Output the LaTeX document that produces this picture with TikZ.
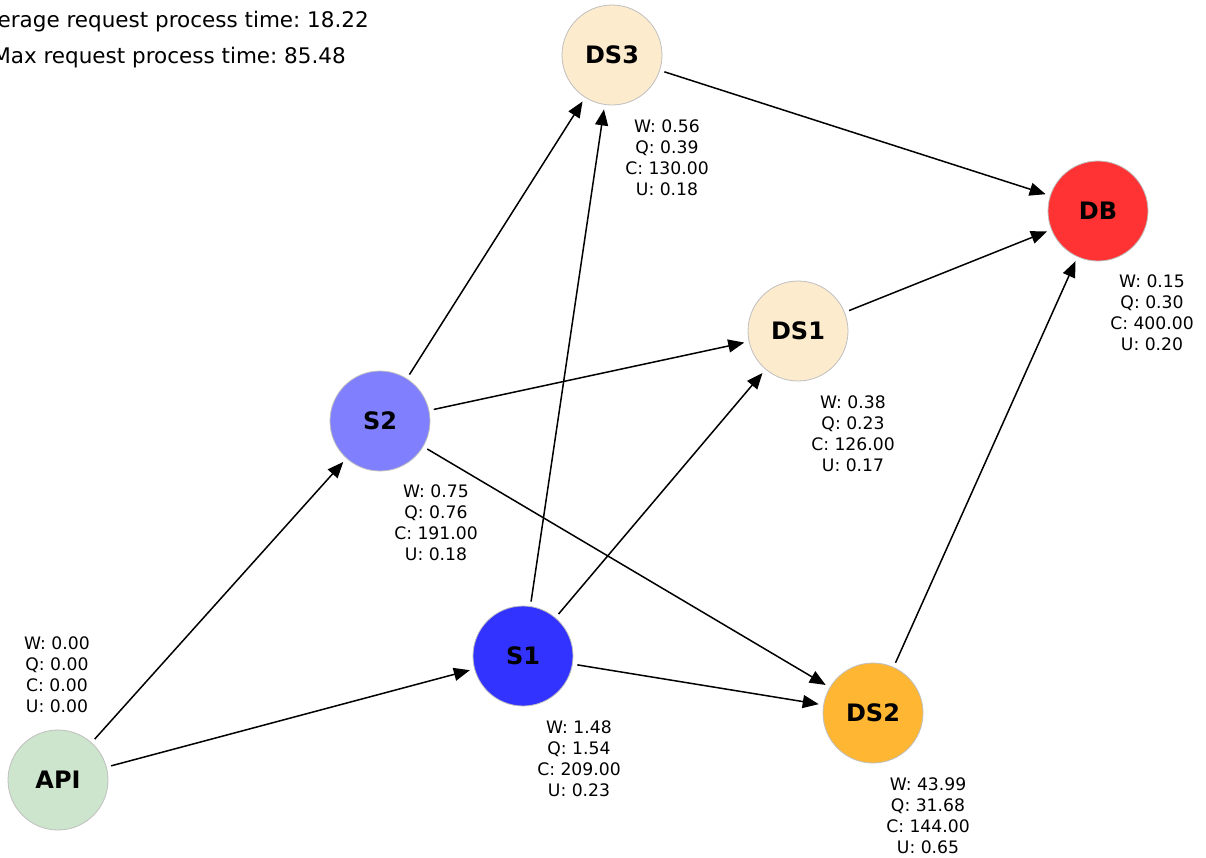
\documentclass[tikz,border=0pt]{standalone}
\usepackage{fontspec}
\setmainfont{DejaVu Sans}
\usetikzlibrary{arrows.meta}
\definecolor{cApi}{HTML}{CCE5CC}
\definecolor{cSone}{HTML}{3333FF}
\definecolor{cStwo}{HTML}{8080FF}
\definecolor{cDS}{HTML}{FDEBCD}
\definecolor{cDB}{HTML}{FF3333}
\definecolor{cDStwo}{HTML}{FFB733}
\frenchspacing
\tikzset{
  srv/.style={circle, draw=black!25, line width=0.8pt, minimum size=100pt, inner sep=0pt, outer sep=5pt,
    font=\fontsize{24}{28}\selectfont\bfseries},
  info/.style={align=center, font=\fontsize{17.2}{21}\selectfont, inner sep=0pt},
  edge/.style={-{Triangle[length=16pt,width=13pt]}, line width=1.5pt, black},
  hdr/.style={anchor=base east, inner sep=0pt, font=\fontsize{21.5}{25}\selectfont}
}
\begin{document}
\begin{tikzpicture}[x=1pt,y=-1pt]
\useasboundingbox (0,0) rectangle (1206,857);
\node[hdr] (avg) at (369,27) {Average request process time: 18.22};
\node[hdr] (max) at (346,63) {Max request process time: 85.48};

\node[srv, fill=cApi] (API) at (58,780) {API};
\node[srv, fill=cSone] (S1) at (523,656) {S1};
\node[srv, fill=cStwo] (S2) at (380,421) {S2};
\node[srv, fill=cDS] (DS3) at (612,55) {DS3};
\node[srv, fill=cDS] (DS1) at (798,331) {DS1};
\node[srv, fill=cDB] (DB) at (1098,211) {DB};
\node[srv, fill=cDStwo] (DS2) at (873,713) {DS2};

\node[info] (iAPI) at (57,675) {W: 0.00\\Q: 0.00\\C: 0.00\\U: 0.00};
\node[info] (iS1) at (579,759) {W: 1.48\\Q: 1.54\\C: 209.00\\U: 0.23};
\node[info] (iS2) at (436,523) {W: 0.75\\Q: 0.76\\C: 191.00\\U: 0.18};
\node[info] (iDS3) at (667,158) {W: 0.56\\Q: 0.39\\C: 130.00\\U: 0.18};
\node[info] (iDS1) at (853,434) {W: 0.38\\Q: 0.23\\C: 126.00\\U: 0.17};
\node[info] (iDB) at (1152,313) {W: 0.15\\Q: 0.30\\C: 400.00\\U: 0.20};
\node[info] (iDS2) at (928,816) {W: 43.99\\Q: 31.68\\C: 144.00\\U: 0.65};

\draw[edge] (API) -- (S2);
\draw[edge] (API) -- (S1);
\draw[edge] (S2) -- (DS3);
\draw[edge] (S2) -- (DS1);
\draw[edge] (S2) -- (DS2);
\draw[edge] (S1) -- (DS3);
\draw[edge] (S1) -- (DS1);
\draw[edge] (S1) -- (DS2);
\draw[edge] (DS3) -- (DB);
\draw[edge] (DS1) -- (DB);
\draw[edge] (DS2) -- (DB);
\end{tikzpicture}
\end{document}
